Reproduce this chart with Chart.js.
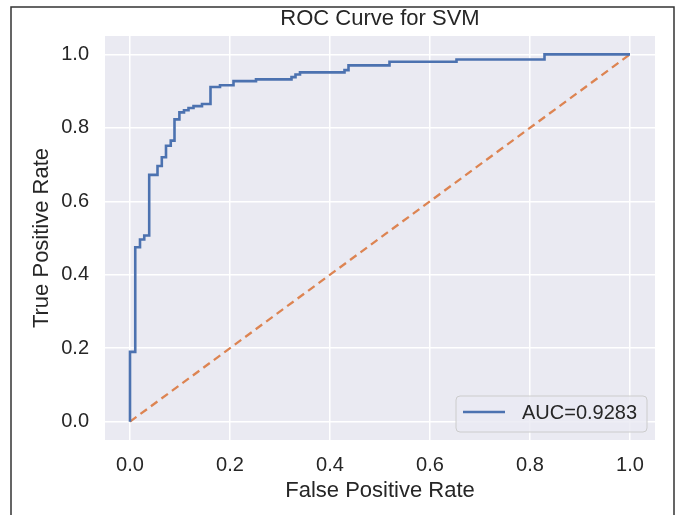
<!DOCTYPE html>
<html>
<head>
<meta charset="utf-8">
<script src="https://cdn.jsdelivr.net/npm/chart.js@4"></script>
<style>
  html, body { margin: 0; padding: 0; background: #fff; }
</style>
</head>
<body>
<canvas id="roc" width="680" height="515"></canvas>
<script>
// ROC points (false positive rate / true positive rate)
const fpr = [0, 0, 0.0105, 0.02, 0.0285, 0.0384, 0.055, 0.0636, 0.072, 0.0815, 0.089, 0.0988, 0.108, 0.117, 0.127, 0.144, 0.161, 0.18, 0.207, 0.252, 0.323, 0.331, 0.34, 0.429, 0.437, 0.519, 0.653, 0.829, 1.0];
const tpr = [0, 0.19, 0.475, 0.496, 0.507, 0.672, 0.696, 0.72, 0.751, 0.765, 0.823, 0.842, 0.848, 0.854, 0.859, 0.865, 0.911, 0.916, 0.927, 0.932, 0.938, 0.945, 0.951, 0.957, 0.970, 0.98, 0.986, 1.0, 1.0];
const chanceX = [0, 1];
const chanceY = [0, 1];
const xTicks = [0, 0.2, 0.4, 0.6, 0.8, 1.0];
const yTicks = [0, 0.2, 0.4, 0.6, 0.8, 1.0];
const aucLabel = 'AUC=0.9283';

const textColor = '#262626';
const fontFamily = '"Liberation Sans", Arial, sans-serif';

const decor = {
  id: 'decor',
  beforeDraw(chart) {
    const { ctx, chartArea: a } = chart;
    ctx.save();
    ctx.fillStyle = '#fff';
    ctx.fillRect(0, 0, chart.width, chart.height);
    ctx.fillStyle = '#EAEAF2';
    ctx.fillRect(a.left, a.top, a.right - a.left, a.bottom - a.top);
    // outer frame
    ctx.strokeStyle = '#333';
    ctx.lineWidth = 1.5;
    ctx.beginPath();
    ctx.moveTo(11, 520);
    ctx.lineTo(11, 7);
    ctx.lineTo(674, 7);
    ctx.lineTo(674, 520);
    ctx.stroke();
    // title
    ctx.fillStyle = textColor;
    ctx.font = '22px ' + fontFamily;
    ctx.textAlign = 'center';
    ctx.textBaseline = 'middle';
    ctx.fillText('ROC Curve for SVM', (a.left + a.right) / 2, 19);
    ctx.restore();
  },
  afterDraw(chart) {
    const { ctx } = chart;
    ctx.save();
    const x = 456, y = 396, w = 191, h = 36;
    ctx.beginPath();
    ctx.roundRect(x, y, w, h, 4);
    ctx.fillStyle = 'rgba(234,234,242,0.8)';
    ctx.fill();
    ctx.strokeStyle = '#cccccc';
    ctx.lineWidth = 1;
    ctx.stroke();
    ctx.beginPath();
    ctx.moveTo(463, 412);
    ctx.lineTo(505, 412);
    ctx.strokeStyle = '#4C72B0';
    ctx.lineWidth = 2.6;
    ctx.stroke();
    ctx.fillStyle = textColor;
    ctx.font = '20px ' + fontFamily;
    ctx.textAlign = 'left';
    ctx.textBaseline = 'middle';
    ctx.fillText(aucLabel, 522, 413);
    ctx.restore();
  }
};

new Chart(document.getElementById('roc'), {
  type: 'line',
  data: {
    datasets: [{
      label: aucLabel,
      data: fpr.map((v, i) => ({ x: v, y: tpr[i] })),
      borderColor: '#4C72B0',
      borderWidth: 2.6,
      stepped: 'before',
      pointRadius: 0,
      fill: false
    }, {
      label: 'chance',
      data: chanceX.map((v, i) => ({ x: v, y: chanceY[i] })),
      borderColor: '#DD8452',
      borderWidth: 2.3,
      borderDash: [8, 5],
      pointRadius: 0,
      fill: false
    }]
  },
  options: {
    responsive: false,
    animation: false,
    layout: { padding: { top: 36, right: 25, left: 0, bottom: 0 } },
    plugins: {
      legend: { display: false },
      tooltip: { enabled: false },
      title: { display: false }
    },
    scales: {
      x: {
        type: 'linear',
        min: -0.05,
        max: 1.05,
        afterBuildTicks: s => { s.ticks = xTicks.map(v => ({ value: v })); },
        afterFit: s => { s.height = 75; },
        grid: { color: '#fff', lineWidth: 1.5, drawTicks: false },
        border: { display: false },
        ticks: {
          padding: 13, color: textColor, maxRotation: 0,
          font: { size: 20, family: fontFamily },
          callback: v => v.toFixed(1)
        },
        title: {
          display: true, text: 'False Positive Rate', color: textColor,
          font: { size: 22, family: fontFamily },
          padding: { top: 0, bottom: 11 }
        }
      },
      y: {
        type: 'linear',
        min: -0.05,
        max: 1.05,
        afterBuildTicks: s => { s.ticks = yTicks.map(v => ({ value: v })); },
        afterFit: s => { s.width = 105; },
        grid: { color: '#fff', lineWidth: 1.5, drawTicks: false },
        border: { display: false },
        ticks: {
          padding: 16, color: textColor,
          font: { size: 20, family: fontFamily },
          callback: v => v.toFixed(1)
        },
        title: {
          display: true, text: 'True Positive Rate', color: textColor,
          font: { size: 22, family: fontFamily },
          padding: { top: 29, bottom: 0 }
        }
      }
    }
  },
  plugins: [decor]
});
</script>
</body>
</html>
